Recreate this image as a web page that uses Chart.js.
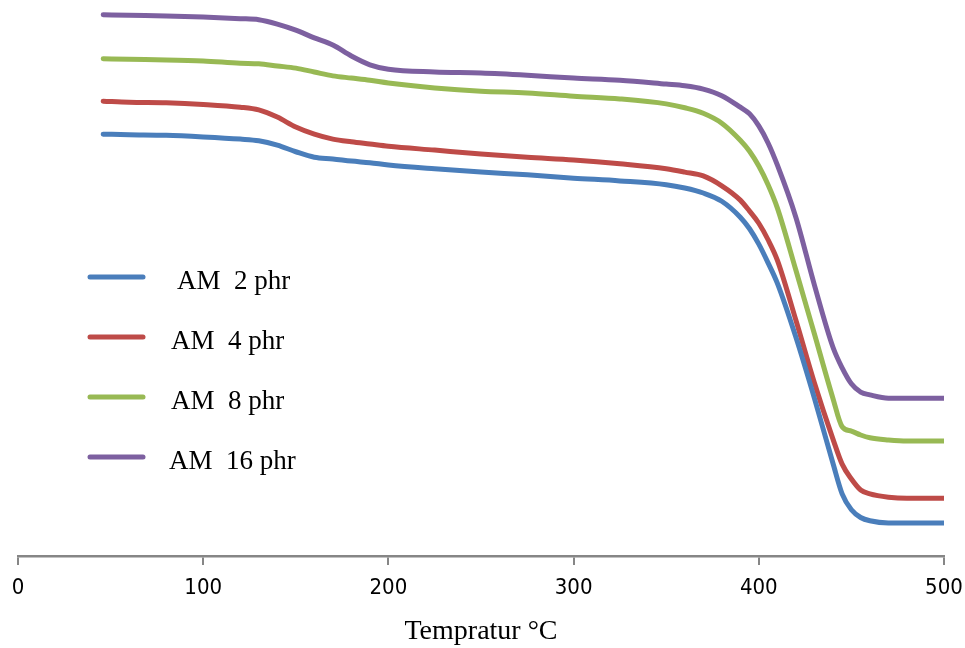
<!DOCTYPE html>
<html>
<head>
<meta charset="utf-8">
<script src="https://cdn.jsdelivr.net/npm/chart.js@4/dist/chart.umd.min.js"></script>
<style>
  html, body { margin: 0; padding: 0; background: #fff; }
  #wrap { width: 965px; height: 648px; }
</style>
</head>
<body>
<div id="wrap"><canvas id="tga" width="965" height="648"></canvas></div>
<script>
// temperature (°C) and residual mass (arbitrary units, y axis is not labelled)
var temps = [46, 60, 80, 100, 120, 130, 140, 150, 160, 170, 180, 190, 200, 225, 250, 275, 300, 325,
             350, 360, 370, 380, 390, 395, 400, 405, 410, 420, 430, 440, 445, 450, 455, 460, 470, 480, 500];

var am2 = [76.7, 76.6, 76.5, 76.2, 75.8, 75.5, 74.7, 73.5, 72.5, 72.2, 71.8, 71.5, 71.1, 70.4, 69.8, 69.3, 68.7, 68.2,
           67.5, 66.9, 66.0, 64.5, 61.6, 59.5, 56.7, 53.3, 49.6, 39.8, 28.7, 16.9, 11.3, 8.4, 7.0, 6.4, 6.0, 6.0, 6.0];
var am4 = [82.7, 82.5, 82.4, 82.1, 81.6, 81.1, 79.8, 78.0, 76.7, 75.8, 75.3, 74.9, 74.5, 73.8, 73.1, 72.5, 72.0, 71.3,
           70.4, 69.8, 69.1, 67.3, 64.7, 62.7, 60.5, 57.5, 53.8, 42.9, 31.5, 21.3, 16.7, 14.0, 12.0, 11.3, 10.7, 10.5, 10.5];
var am8 = [90.4, 90.3, 90.2, 90.0, 89.6, 89.5, 89.1, 88.7, 88.0, 87.3, 86.9, 86.5, 86.0, 85.1, 84.5, 84.2, 83.6, 83.1,
           82.2, 81.5, 80.5, 78.7, 75.6, 73.6, 70.9, 67.5, 63.3, 52.0, 40.4, 28.7, 23.5, 22.7, 22.0, 21.5, 21.1, 20.9, 20.9];
var am16 = [98.4, 98.3, 98.2, 98.0, 97.7, 97.5, 96.7, 95.6, 94.2, 92.9, 90.9, 89.3, 88.5, 88.0, 87.8, 87.4, 86.9, 86.5,
            85.8, 85.5, 84.9, 83.7, 81.6, 80.4, 78.2, 75.1, 71.1, 61.6, 49.3, 38.0, 34.2, 31.3, 29.8, 29.3, 28.7, 28.7, 28.7];

var seriesNames = ['AM  2 phr', 'AM  4 phr', 'AM  8 phr', 'AM  16 phr'];
var seriesValues = [am2, am4, am8, am16];
var colors = ['#4a7ebb', '#be4b48', '#98b954', '#7d60a0'];

function pts(vals) {
  return temps.map(function (t, i) { return { x: t, y: vals[i] }; });
}

var datasets = seriesValues.map(function (vals, i) {
  return {
    label: seriesNames[i],
    data: pts(vals),
    borderColor: colors[i],
    borderWidth: 5,
    borderCapStyle: 'round',
    borderJoinStyle: 'round',
    pointRadius: 0,
    fill: false,
    cubicInterpolationMode: 'monotone'
  };
});

// legend sits inside the plot on the left, drawn by hand
var legendRows = [277, 337, 397, 457];
var legendText = [177, 171, 171, 169];
var sideLegend = {
  id: 'sideLegend',
  afterDraw: function (chart) {
    var ctx = chart.ctx;
    ctx.save();
    chart.data.datasets.forEach(function (ds, i) {
      var y = legendRows[i];
      ctx.strokeStyle = ds.borderColor;
      ctx.lineWidth = 5;
      ctx.lineCap = 'round';
      ctx.beginPath();
      ctx.moveTo(90, y);
      ctx.lineTo(143, y);
      ctx.stroke();
      ctx.fillStyle = '#000';
      ctx.font = '27px "Liberation Serif", "Times New Roman", serif';
      ctx.textBaseline = 'alphabetic';
      ctx.fillText(ds.label, legendText[i], y + 12);
    });
    ctx.restore();
  }
};

new Chart(document.getElementById('tga'), {
  type: 'line',
  data: { datasets: datasets },
  plugins: [sideLegend],
  options: {
    responsive: false,
    animation: false,
    layout: { padding: { left: 18, right: 21, top: 6, bottom: 0 } },
    plugins: {
      legend: { display: false },
      tooltip: { enabled: false }
    },
    scales: {
      x: {
        type: 'linear',
        min: 0,
        max: 500,
        afterFit: function (scale) {
          scale.height = 92;
          scale.paddingLeft = 0;
          scale.paddingRight = 0;
        },
        ticks: {
          stepSize: 100,
          color: '#000',
          padding: 10,
          font: { family: '"Liberation Sans Narrow", "DejaVu Sans Condensed", sans-serif', size: 22 }
        },
        grid: { drawOnChartArea: false, tickLength: 9, color: '#868686', lineWidth: 2 },
        border: { color: '#868686', width: 2.5 },
        title: {
          display: true,
          text: 'Tempratur °C',
          color: '#000',
          padding: { top: 13, bottom: 0 },
          font: { family: '"Liberation Serif", "Times New Roman", serif', size: 28 }
        }
      },
      y: {
        display: false,
        min: 0,
        max: 100
      }
    }
  }
});
</script>
</body>
</html>
